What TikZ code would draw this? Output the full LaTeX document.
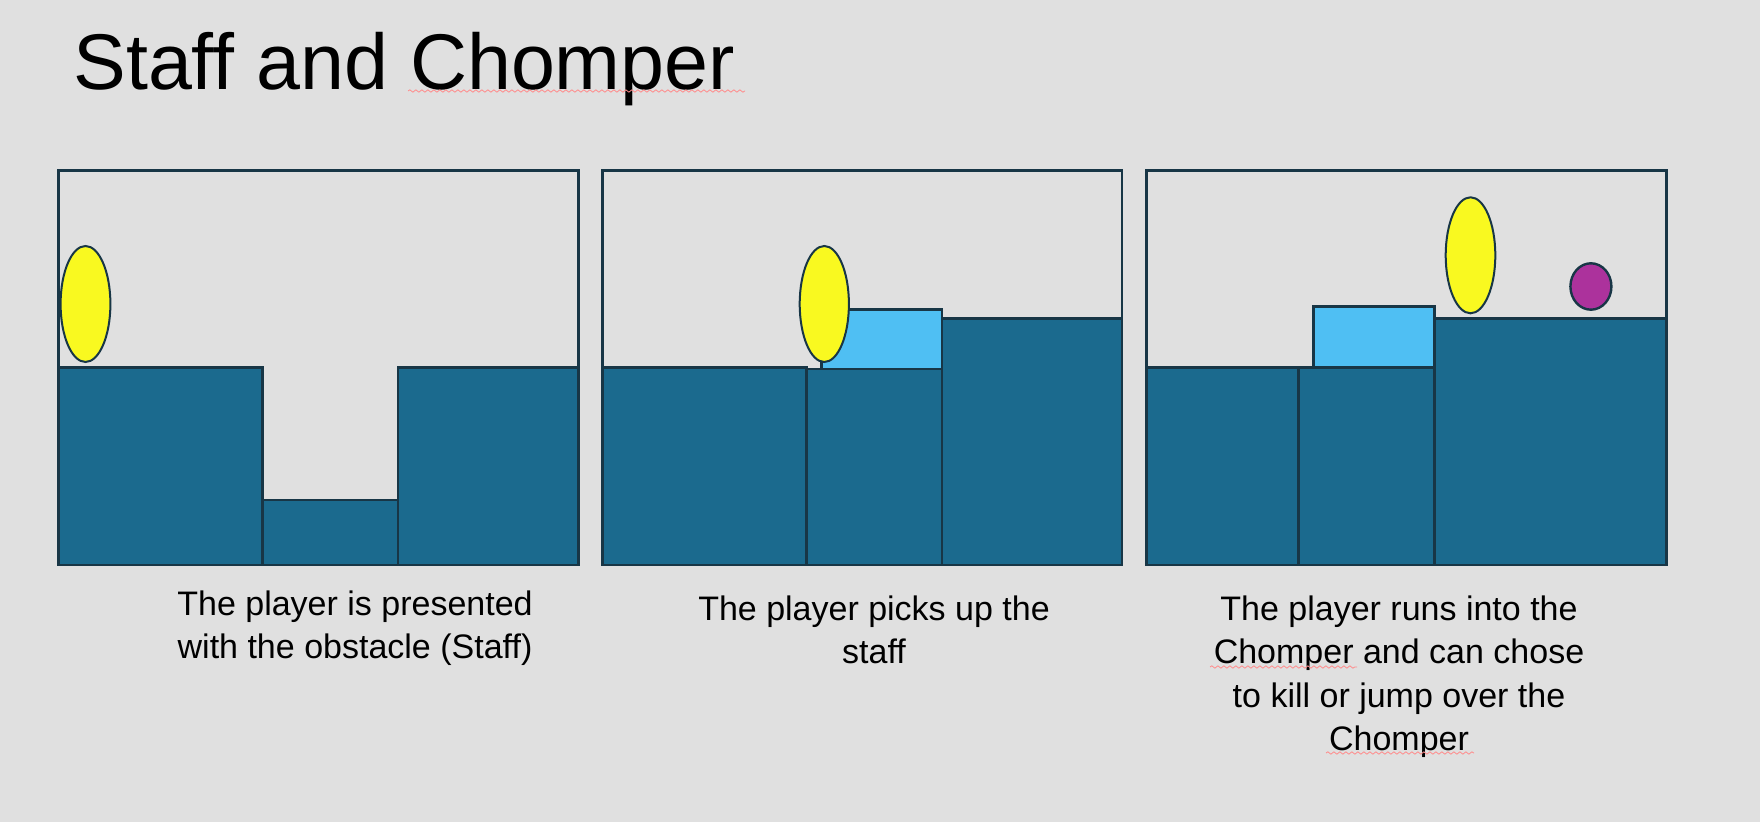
\documentclass[tikz,border=0pt]{standalone}
\usepackage{fontspec}
\setmainfont{Liberation Sans}
\usetikzlibrary{decorations.pathmorphing}
\definecolor{bggray}{RGB}{224,224,224}
\definecolor{water}{RGB}{27,106,142}
\definecolor{edge}{RGB}{24,54,70}
\definecolor{playeryellow}{RGB}{249,249,32}
\definecolor{staffblue}{RGB}{79,191,243}
\definecolor{chomperpurple}{RGB}{172,50,156}
\begin{document}
\begin{tikzpicture}[x=0.5pt, y=-0.5pt,
  frame/.style={draw=edge, line width=1.35pt},
  ground/.style={draw=edge, fill=water, line width=1.35pt},
  staffbox/.style={draw=edge, fill=staffblue, line width=1.35pt},
  player/.style={draw=edge, fill=playeryellow, line width=1pt},
  chomper/.style={draw=edge, fill=chomperpurple, line width=1.2pt},
  caption/.style={align=center, anchor=north, inner sep=0pt, font=\fontsize{17}{21.7}\selectfont},
  spell/.style={draw=red!45, line width=0.4pt, decorate, decoration={snake, segment length=3pt, amplitude=0.6pt}}
]
\fill[bggray] (0,0) rectangle (1760,822);
\useasboundingbox (0,0) rectangle (1760,822);

\node[anchor=base west, inner sep=0pt, font=\fontsize{39.5}{47}\selectfont] (title) at (73,89.3) {Staff and Chomper};
\draw[spell] (408,91) -- (745,91);

% panel 1
\draw[ground] (58.6,367.3) rectangle (262.5,565);
\draw[ground] (262.5,500) rectangle (397.9,565);
\draw[ground] (397.9,367.3) rectangle (578.2,565);
\draw[frame] (58.6,170.7) rectangle (578.2,565);
\draw[player] (85.5,304) ellipse [x radius=24.9, y radius=58];

% panel 2
\draw[ground] (602.5,367.3) rectangle (806.4,565);
\draw[ground] (806.4,369) rectangle (942.1,565);
\draw[ground] (942.1,318.3) rectangle (1122.1,565);
\draw[staffbox] (821.4,309.7) rectangle (942.1,369);
\draw[frame] (602.5,170.7) rectangle (1122.1,565);
\draw[player] (824.3,304) ellipse [x radius=24.6, y radius=58];

% panel 3
\draw[ground] (1146.4,367.3) rectangle (1298.2,565);
\draw[ground] (1298.2,367.3) rectangle (1434.3,565);
\draw[ground] (1434.3,318.3) rectangle (1666.4,565);
\draw[staffbox] (1313.6,306.3) rectangle (1434.3,367.3);
\draw[frame] (1146.4,170.7) rectangle (1666.4,565);
\draw[player] (1470.5,255.3) ellipse [x radius=24.8, y radius=58];
\draw[chomper] (1590.9,286.5) ellipse [x radius=20.5, y radius=23.2];

\node[caption] (presented) at (355,590.5) {The player is presented\\with the obstacle (Staff)};
\node[caption] (pickup) at (874,595.5) {The player picks up the\\staff};
\node[caption] (runinto) at (1399,595.5) {The player runs into the\\Chomper and can chose\\to kill or jump over the\\Chomper};
\draw[spell] (1210,667) -- (1357,667);
\draw[spell] (1326,753) -- (1474,753);
\end{tikzpicture}
\end{document}
